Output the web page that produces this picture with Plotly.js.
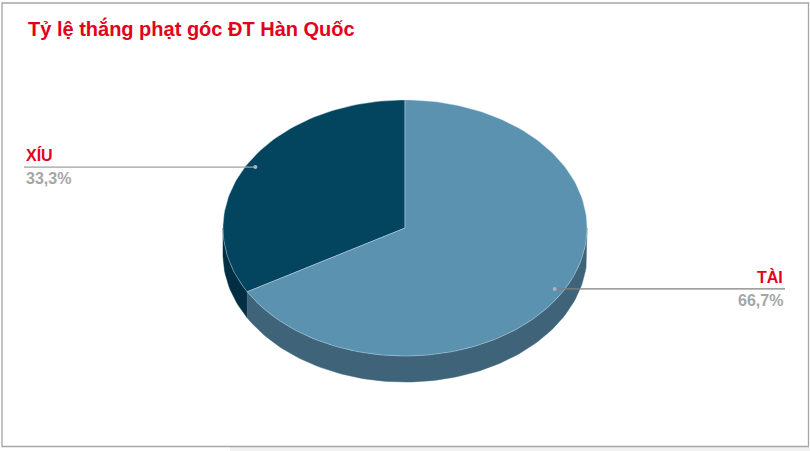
<!DOCTYPE html>
<html>
<head>
<meta charset="utf-8">
<script src="https://cdn.plot.ly/plotly-3.0.1.min.js"></script>
<style>
  html, body { margin: 0; padding: 0; background: #ffffff; }
  #chart { width: 810px; height: 451px; }
</style>
</head>
<body>
<div id="chart"></div>
<script>
// ---- data ----
const categories = ['XÍU', 'TÀI'];
const values = [33.3, 66.7];
const percentLabels = ['33,3%', '66,7%'];
const chartTitle = 'Tỷ lệ thắng phạt góc ĐT Hàn Quốc';

// ---- style ----
const topColors = ['#03445F', '#5A92B0'];
const sideColors = ['#012E42', '#3F6479'];
const labelRed = '#E3001B';
const labelGray = '#A6A6A6';
const FONT = 'Liberation Sans, Arial, sans-serif';

// pie geometry (pixel-like coordinates on hidden axes)
const geo = { cx: 405, cy: 228, rx: 182, ry: 128, depth: 26, startAngle: 90 };
const labelX = [24, 785];       // where leader lines end / labels anchor
const labelSide = ['left', 'right'];

function pt(tDeg, dy) {
  const t = tDeg * Math.PI / 180;
  return [geo.cx + geo.rx * Math.cos(t), geo.cy - geo.ry * Math.sin(t) + (dy || 0)];
}
function arc(a, b, dy) {
  const n = Math.max(8, Math.ceil(Math.abs(b - a) / 1.5));
  const out = [];
  for (let i = 0; i <= n; i++) out.push(pt(a + (b - a) * i / n, dy));
  return out;
}

const total = values.reduce((s, v) => s + v, 0);
const slices = [];
let acc = geo.startAngle;
values.forEach((v, i) => {
  const sweep = 360 * v / total;
  slices.push({ a: acc, b: acc + sweep, mid: acc + sweep / 2 });
  acc += sweep;
});

const traces = [];
// side walls (visible front half: 180..360 deg, mod 360)
slices.forEach((s, i) => {
  for (let k = 0; k <= 1; k++) {
    const lo = 180 + 360 * k, hi = 360 + 360 * k;
    const a = Math.max(s.a, lo), b = Math.min(s.b, hi);
    if (b <= a) continue;
    const top = arc(a, b, 0);
    const bot = arc(b, a, geo.depth);
    const poly = top.concat(bot);
    poly.push(top[0]);
    traces.push({
      type: 'scatter', mode: 'lines', fill: 'toself',
      x: poly.map(p => p[0]), y: poly.map(p => p[1]),
      fillcolor: sideColors[i], line: { color: sideColors[i], width: 0.5 },
      hoverinfo: 'skip', showlegend: false
    });
  }
});
// top faces
slices.forEach((s, i) => {
  const poly = [[geo.cx, geo.cy]].concat(arc(s.a, s.b, 0));
  poly.push([geo.cx, geo.cy]);
  traces.push({
    type: 'scatter', mode: 'lines', fill: 'toself',
    x: poly.map(p => p[0]), y: poly.map(p => p[1]),
    fillcolor: topColors[i], line: { color: 'rgba(200,225,240,0.55)', width: 0.8 },
    hoverinfo: 'skip', showlegend: false
  });
});
// leader lines + labels
const annotations = [];
slices.forEach((s, i) => {
  const t = s.mid * Math.PI / 180;
  const px = geo.cx + 0.95 * geo.rx * Math.cos(t);
  const py = geo.cy - 0.95 * geo.ry * Math.sin(t);
  traces.push({
    type: 'scatter', mode: 'lines',
    x: [px, labelX[i]], y: [py, py],
    line: { color: i === 0 ? '#A0A0A0' : '#808080', width: 1.2 },
    hoverinfo: 'skip', showlegend: false
  });
  traces.push({
    type: 'scatter', mode: 'markers',
    x: [px], y: [py],
    marker: { color: '#A9B4BC', size: 4 },
    hoverinfo: 'skip', showlegend: false
  });
  annotations.push({
    x: labelX[i], y: py - 1, xref: 'x', yref: 'y',
    xanchor: labelSide[i], yanchor: 'bottom', showarrow: false,
    text: '<b>' + categories[i] + '</b>',
    font: { family: FONT, size: 16, color: labelRed }
  });
  annotations.push({
    x: labelX[i], y: py + 1, xref: 'x', yref: 'y',
    xanchor: labelSide[i], yanchor: 'top', showarrow: false,
    text: '<b>' + percentLabels[i] + '</b>',
    font: { family: FONT, size: 16, color: labelGray }
  });
});

const layout = {
  width: 810, height: 451,
  margin: { l: 0, r: 0, t: 0, b: 0 },
  paper_bgcolor: '#ffffff', plot_bgcolor: 'rgba(0,0,0,0)',
  title: {
    text: '<b>' + chartTitle + '</b>',
    x: 28 / 810, xanchor: 'left', xref: 'container',
    y: 1 - 29 / 451, yanchor: 'middle', yref: 'container',
    font: { family: FONT, size: 20, color: labelRed }
  },
  xaxis: { range: [0, 810], visible: false, fixedrange: true },
  yaxis: { range: [451, 0], visible: false, fixedrange: true },
  annotations: annotations,
  shapes: [
    { type: 'rect', xref: 'x', yref: 'y', x0: 230, x1: 810, y0: 447, y1: 451,
      fillcolor: '#F2F2F2', line: { width: 0 }, layer: 'below' },
    { type: 'rect', xref: 'x', yref: 'y', x0: 2, x1: 808.5, y0: 3, y1: 446.5,
      fillcolor: 'rgba(0,0,0,0)', line: { color: '#A6A6A6', width: 1.3 }, layer: 'below' }
  ]
};

Plotly.newPlot('chart', traces, layout, { staticPlot: true, displayModeBar: false });
</script>
</body>
</html>
